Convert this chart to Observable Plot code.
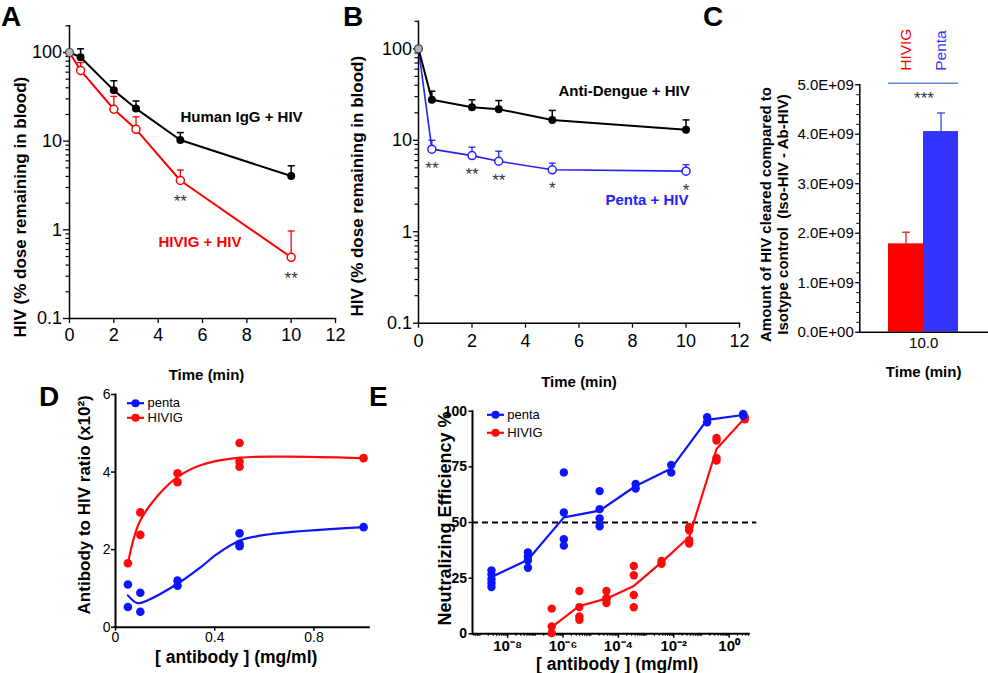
<!DOCTYPE html>
<html><head><meta charset="utf-8">
<script src="https://cdn.jsdelivr.net/npm/d3@7"></script>
<script src="https://cdn.jsdelivr.net/npm/@observablehq/plot@0.6"></script>
<style>
html,body{margin:0;padding:0;background:#fff;}
#fig{position:relative;width:988px;height:673px;overflow:hidden;background:#fff;font-family:"Liberation Sans",Arial,Helvetica,sans-serif;}
.letter{position:absolute;font-weight:bold;font-size:28px;line-height:28px;color:#000;}
</style></head><body><div id="fig"></div>
<script>
// ---------------- data ----------------
const panelLetters = ["A", "B", "C", "D", "E"];
const timeTicks = [0, 2, 4, 6, 8, 10, 12];
const logTicks = [0.1, 1, 10, 100];
const logTickLabels = ["0.1", "1", "10", "100"];
const yLabelAB = "HIV (% dose remaining in blood)";
const xLabelTime = "Time (min)";

// Panel A
const timesA = [0, 0.5, 2, 3, 5, 10];
const iggA = [100, 88.5, 37.4, 23.3, 10.3, 4.04];
const iggErrA = [null, 110, 48, 28.4, 12.5, 5.28];
const hivigA = [100, 62.8, 22.9, 13.6, 3.6, 0.49];
const hivigErrA = [null, 77, 32, 18.8, 4.72, 0.97];
const sigA = ["", "", "", "", "**", "**"];
const namesA = ["Human IgG + HIV", "HIVIG + HIV"];

// Panel B
const timesB = [0, 0.5, 2, 3, 5, 10];
const dengueB = [100, 27.7, 23, 21.9, 16.7, 13];
const dengueErrB = [null, 34.4, 27.7, 27.2, 21.2, 16.7];
const pentaB = [100, 8.0, 6.8, 5.9, 4.76, 4.6];
const pentaErrB = [null, 10, 8.4, 7.6, 5.62, 5.4];
const sigB = ["", "**", "**", "**", "*", "*"];
const namesB = ["Anti-Dengue + HIV", "Penta + HIV"];

// Panel C
const groupsC = ["HIVIG", "Penta"];
const clearedC = [1.786e9, 4.055e9];
const clearedErrC = [2.02e9, 4.43e9];
const colorsC = ["#ff0000", "#3434ff"];
const errColorsC = ["#e83a3a", "#4d5fe6"];
const sigC = "***";
const timeC = "10.0";
const cTicks = [0, 1e9, 2e9, 3e9, 4e9, 5e9];
const cTickLabels = ["0.0E+00", "1.0E+09", "2.0E+09", "3.0E+09", "4.0E+09", "5.0E+09"];
const cYLabel = "Amount of HIV cleared compared to\nIsotype control  (Iso-HIV - Ab-HIV)";

// Panel D
const concDp = [0.05, 0.05, 0.1, 0.1, 0.25, 0.25, 0.5, 0.5, 0.5, 1.0];
const pentaD = [1.10, 0.52, 0.89, 0.40, 1.20, 1.07, 2.42, 2.15, 2.09, 2.58];
const concDh = [0.05, 0.1, 0.1, 0.25, 0.25, 0.5, 0.5, 0.5, 1.0];
const hivigD = [1.65, 2.96, 2.38, 3.97, 3.74, 4.75, 4.27, 4.14, 4.36];
const fitXp = [0.05, 0.088, 0.128, 0.25, 0.344, 0.41, 0.5, 0.614, 1.0];
const fitYp = [0.82, 0.62, 0.69, 1.12, 1.55, 1.89, 2.23, 2.39, 2.58];
const fitXh = [0.05, 0.075, 0.1, 0.17, 0.25, 0.34, 0.5, 0.68, 1.0];
const fitYh = [1.65, 2.32, 2.75, 3.39, 3.87, 4.17, 4.37, 4.40, 4.36];
const dXTicks = [0, 0.4, 0.8];
const dXTickLabels = ["0", "0.4", "0.8"];
const dYTicks = [0, 2, 4, 6];
const dYTickLabels = ["0", "2", "4", "6"];
const legendNames = ["penta", "HIVIG"];
const dYLabel = "Antibody to HIV ratio (x10²)";
const concLabel = "[ antibody ] (mg/ml)";

// Panel E
const concEp = [2.6e-9, 5.4e-8, 1.07e-6, 2.1e-5, 4.2e-4, 8.1e-3, 0.16, 3.2];
const pentaEreps = [[28.5, 26.6, 24.5, 22.8, 21.0], [36.6, 34.8, 33.0, 29.7], [72.5, 54.5, 42.5, 39.6], [64.1, 56, 51.8, 48.3], [67.3, 65.3], [75.8, 72.4], [97.3, 95], [98.8, 97.9]];
const pentaEline = [25.5, 33.3, 52.3, 55.3, 66.4, 74.3, 96.1, 98.3];
const concEh = [3.9e-7, 3.9e-6, 3.7e-5, 3.6e-4, 3.6e-3, 0.036, 0.35, 3.7];
const hivigEreps = [[11.3, 3.3, 0.3], [19.2, 12.0, 7.8, 6.3], [19.2, 16.1, 13.8, 15.5], [30.5, 26.3, 17.4, 11.9], [32.7, 31.5], [48, 46.5, 42, 40.5], [88, 86.8, 79, 77.8], [97.3, 96.4]];
const hivigEline = [3.0, 12.5, 15.8, 21.5, 32.1, 43.5, 83, 97];
const eXTicks = [1e-8, 1e-6, 1e-4, 1e-2, 1];
const eXTickLabels = ["10⁻⁸", "10⁻⁶", "10⁻⁴", "10⁻²", "10⁰"];
const eYTicks = [0, 25, 50, 75, 100];
const eThreshold = 50;
const eYLabel = "Neutralizing Efficiency %";

// ---------------- helpers ----------------
const FONT = '"Liberation Sans", Arial, Helvetica, sans-serif';
const hbar = {draw(ctx, size) { const w = Math.sqrt(size / Math.PI); ctx.moveTo(-w, 0); ctx.lineTo(w, 0); }};
const fig = document.getElementById("fig");
function place(svg, left, top) {
  svg.style.position = "absolute";
  svg.style.left = left + "px";
  svg.style.top = top + "px";
  svg.style.overflow = "visible";
  fig.appendChild(svg);
}
function logMinor(lo, hi, ks, skip = []) {
  const out = [];
  for (let e = Math.floor(Math.log10(lo)) - 1; e <= Math.ceil(Math.log10(hi)); e++)
    for (const k of ks) { const v = k * Math.pow(10, e); if (v >= lo * 0.999 && v <= hi * 1.001 && !skip.some(s => Math.abs(s - v) / s < 1e-6)) out.push(v); }
  return out;
}
const baseStyle = {fontFamily: FONT, overflow: "visible", background: "transparent", color: "#000"};

function decayPanel(o) {
  const s1 = o.times.map((t, i) => ({t, v: o.v1[i], e: o.e1[i]}));
  const s2 = o.times.map((t, i) => ({t, v: o.v2[i], e: o.e2[i], s: o.sig[i]}));
  const hasE = d => d.e != null;
  return Plot.plot({
    width: o.w, height: o.h, marginLeft: o.ml, marginRight: o.mr, marginTop: o.mt, marginBottom: o.mb,
    style: baseStyle,
    x: {domain: [0, 12]},
    y: {type: "log", domain: [0.1, 200]},
    marks: [
      Plot.axisY({ticks: logMinor(0.1, 200, [2, 3, 4, 5, 6, 7, 8, 9]), tickSize: 3.5, tickFormat: () => "", label: null, strokeWidth: 1.2}),
      Plot.axisY({ticks: logTicks, tickSize: o.yts, tickPadding: 1.5, fontSize: 18, tickFormat: d => logTickLabels[logTicks.indexOf(d)], label: null, strokeWidth: 1.3}),
      Plot.axisX({ticks: timeTicks, tickSize: 5, tickPadding: o.xpad, fontSize: 18, label: null, strokeWidth: 1.3}),
      Plot.frame({anchor: "left", strokeWidth: 1.5}),
      Plot.frame({anchor: "bottom", strokeWidth: 1.5}),
      Plot.ruleX(s1.filter(hasE), {x: "t", y1: "v", y2: "e", stroke: o.c1, strokeWidth: 1.5}),
      Plot.dot(s1.filter(hasE), {x: "t", y: "e", symbol: hbar, r: 3.5, fill: "none", stroke: o.c1, strokeWidth: 1.5}),
      Plot.ruleX(s2.filter(hasE), {x: "t", y1: "v", y2: "e", stroke: o.c2, strokeWidth: 1.3}),
      Plot.dot(s2.filter(hasE), {x: "t", y: "e", symbol: hbar, r: 3.5, fill: "none", stroke: o.c2, strokeWidth: 1.3}),
      Plot.line(s2, {x: "t", y: "v", stroke: o.c2, strokeWidth: o.lw2}),
      Plot.line(s1, {x: "t", y: "v", stroke: o.c1, strokeWidth: 2}),
      Plot.dot(s1.slice(1), {x: "t", y: "v", r: 4, fill: o.c1}),
      Plot.dot(s2.slice(1), {x: "t", y: "v", r: 4, fill: "white", stroke: o.c2, strokeWidth: 1.5}),
      Plot.dot(s1.slice(0, 1), {x: "t", y: "v", r: 4, fill: "#b4b4b4", stroke: "#444", strokeWidth: 1.2}),
      Plot.text(s2.filter(d => d.s), {x: "t", y: "v", text: "s", dy: o.sigDy, fontSize: 17, fill: "#333", lineAnchor: "middle", letterSpacing: "1.5px"}),
      Plot.text([o.names[0]], {text: d => d, frameAnchor: "top-left", dx: o.l1[0], dy: o.l1[1], textAnchor: "start", lineAnchor: "middle", fontSize: 15, fontWeight: "bold", fill: o.c1}),
      Plot.text([o.names[1]], {text: d => d, frameAnchor: "top-left", dx: o.l2[0], dy: o.l2[1], textAnchor: "start", lineAnchor: "middle", fontSize: 15, fontWeight: "bold", fill: o.c2}),
      Plot.text([yLabelAB], {text: d => d, frameAnchor: "left", rotate: -90, dx: o.yl[0], dy: o.yl[1], textAnchor: "middle", lineAnchor: "middle", fontSize: 17, fontWeight: "bold"}),
      Plot.text([xLabelTime], {text: d => d, frameAnchor: "bottom", dx: o.xl[0], dy: o.xl[1], textAnchor: "middle", lineAnchor: "middle", fontSize: 15, fontWeight: "bold"})
    ]
  });
}

// ---------------- Panel A ----------------
place(decayPanel({
  times: timesA, v1: iggA, e1: iggErrA, v2: hivigA, e2: hivigErrA, sig: sigA, names: namesA,
  c1: "#000", c2: "#ff0000", lw2: 2,
  w: 340, h: 380, ml: 69, mr: 5, mt: 25.3, mb: 62, yts: 6, xpad: 5, sigDy: 21,
  l1: [111, 91.7], l2: [89, 216.7], yl: [-49, 35], xl: [4, 57]
}), 0, 0);

// ---------------- Panel B ----------------
place(decayPanel({
  times: timesB, v1: dengueB, e1: dengueErrB, v2: pentaB, e2: pentaErrB, sig: sigB, names: namesB,
  c1: "#000", c2: "#2222ff", lw2: 1.6,
  w: 400, h: 390, ml: 78, mr: 1, mt: 20.8, mb: 67.3, yts: 5, xpad: 6, sigDy: 19,
  l1: [140, 70.2], l2: [187, 179.2], yl: [-61.3, 14], xl: [0, 59]
}), 340, 0);

// ---------------- Panel C ----------------
{
  const rows = groupsC.map((g, i) => ({g, v: clearedC[i], e: clearedErrC[i], col: colorsC[i], ecol: errColorsC[i]}));
  const svg = Plot.plot({
    width: 248, height: 390, marginLeft: 119.3, marginRight: 1, marginTop: 84.3, marginBottom: 58.3,
    style: baseStyle,
    x: {domain: groupsC, paddingInner: 0, paddingOuter: 0.775, axis: null},
    y: {domain: [0, 5e9], axis: null},
    color: {type: "identity"},
    marks: [
      Plot.axisY({ticks: d3.range(0, 5e9 + 1, 2e8), tickSize: 3, tickFormat: () => "", label: null}),
      Plot.axisY({ticks: cTicks, tickSize: 4.5, tickPadding: 1.5, fontSize: 15, tickFormat: d => cTickLabels[cTicks.indexOf(d)], label: null}),
      Plot.barY(rows, {x: "g", y: "v", fill: "col"}),
      Plot.ruleX(rows, {x: "g", y1: "v", y2: "e", stroke: "ecol", strokeWidth: 1.5}),
      Plot.dot(rows, {x: "g", y: "e", symbol: hbar, r: 4, fill: "none", stroke: "ecol", strokeWidth: 1.5}),
      Plot.frame({anchor: "left", strokeWidth: 1.5}),
      Plot.frame({anchor: "bottom", strokeWidth: 1.5}),
      Plot.tickY(rows, {x: "g", y: () => 5e9, dy: -1.5, stroke: "#5b8bd6", strokeWidth: 1.5}),
      Plot.text([sigC], {text: d => d, x: () => groupsC[0], frameAnchor: "top", dx: 18, dy: 14, fontSize: 17, fill: "#333", lineAnchor: "middle", letterSpacing: "1.5px"}),
      Plot.text(rows, {x: "g", text: "g", frameAnchor: "top", rotate: -90, textAnchor: "start", lineAnchor: "middle", dy: -14, fontSize: 15.5, fill: "col"}),
      Plot.text([timeC], {text: d => d, frameAnchor: "bottom", dy: 10.5, textAnchor: "middle", lineAnchor: "middle", fontSize: 15}),
      Plot.text([xLabelTime], {text: d => d, frameAnchor: "bottom", dy: 39.5, textAnchor: "middle", lineAnchor: "middle", fontSize: 15, fontWeight: "bold"}),
      Plot.text([cYLabel], {text: d => d, frameAnchor: "left", rotate: -90, dx: -86, dy: 6, textAnchor: "middle", lineAnchor: "middle", lineHeight: 1.12, fontSize: 15, fontWeight: "bold"})
    ]
  });
  place(svg, 740, 0);
}

// ---------------- Panel D ----------------
{
  const BLUE = "#0a14ff", RED = "#ff0a0a";
  const dp = concDp.map((x, i) => ({x, y: pentaD[i]}));
  const dh = concDh.map((x, i) => ({x, y: hivigD[i]}));
  const fp = fitXp.map((x, i) => ({x, y: fitYp[i]}));
  const fh = fitXh.map((x, i) => ({x, y: fitYh[i]}));
  const legendColors = [BLUE, RED];
  const legendMarks = legendNames.flatMap((n, i) => [
    Plot.dot([n], {frameAnchor: "top-left", dx: 20, dy: 8.7 + i * 14.6, symbol: hbar, r: 8.5, fill: "none", stroke: legendColors[i], strokeWidth: 2.2}),
    Plot.dot([n], {frameAnchor: "top-left", dx: 20, dy: 8.7 + i * 14.6, r: 4, fill: legendColors[i]}),
    Plot.text([n], {text: d => d, frameAnchor: "top-left", dx: 32, dy: 8.7 + i * 14.6, textAnchor: "start", lineAnchor: "middle", fontSize: 13})
  ]);
  const svg = Plot.plot({
    width: 400, height: 293, marginLeft: 115, marginRight: 31.7, marginTop: 14, marginBottom: 46.3,
    style: baseStyle,
    x: {domain: [0, 1.021]},
    y: {domain: [0, 6]},
    marks: [
      Plot.axisX({ticks: dXTicks, tickSize: 4, tickPadding: 1, fontSize: 14, tickFormat: d => dXTickLabels[dXTicks.indexOf(d)], label: null, strokeWidth: 1.5}),
      Plot.axisY({ticks: dYTicks, tickSize: 4, tickPadding: 1, fontSize: 14, tickFormat: d => dYTickLabels[dYTicks.indexOf(d)], label: null, strokeWidth: 1.5}),
      Plot.frame({anchor: "left", strokeWidth: 2}),
      Plot.frame({anchor: "bottom", strokeWidth: 2}),
      Plot.line(fh, {x: "x", y: "y", curve: "catmull-rom", stroke: RED, strokeWidth: 2.2}),
      Plot.line(fp, {x: "x", y: "y", curve: "catmull-rom", stroke: BLUE, strokeWidth: 2.2}),
      Plot.dot(dh, {x: "x", y: "y", r: 4.3, fill: RED}),
      Plot.dot(dp, {x: "x", y: "y", r: 4.3, fill: BLUE}),
      ...legendMarks,
      Plot.text([dYLabel], {text: d => d, frameAnchor: "left", rotate: -90, dx: -31, dy: -6, textAnchor: "middle", lineAnchor: "middle", fontSize: 17, fontWeight: "bold"}),
      Plot.text([concLabel], {text: d => d, frameAnchor: "bottom", dx: -6, dy: 30.3, textAnchor: "middle", lineAnchor: "middle", fontSize: 17.5, fontWeight: "bold"})
    ]
  });
  place(svg, 0, 380);
}

// ---------------- Panel E ----------------
{
  const BLUE = "#0a14ff", RED = "#ff0a0a";
  const ep = concEp.flatMap((x, i) => pentaEreps[i].map(y => ({x, y})));
  const eh = concEh.flatMap((x, i) => hivigEreps[i].map(y => ({x, y})));
  const lp = concEp.map((x, i) => ({x, y: pentaEline[i]}));
  const lh = concEh.map((x, i) => ({x, y: hivigEline[i]}));
  const xDomain = [Math.pow(10, -9.27), Math.pow(10, 0.71)];
  const legendColors = [BLUE, RED];
  const legendMarks = legendNames.flatMap((n, i) => [
    Plot.dot([n], {frameAnchor: "top-left", dx: 23, dy: 3.6 + i * 18, symbol: hbar, r: 8.5, fill: "none", stroke: legendColors[i], strokeWidth: 2.2}),
    Plot.dot([n], {frameAnchor: "top-left", dx: 23, dy: 3.6 + i * 18, r: 4, fill: legendColors[i]}),
    Plot.text([n], {text: d => d, frameAnchor: "top-left", dx: 34.7, dy: 3.6 + i * 18, textAnchor: "start", lineAnchor: "middle", fontSize: 13})
  ]);
  const svg = Plot.plot({
    width: 370, height: 293, marginLeft: 72, marginRight: 21.7, marginTop: 30.7, marginBottom: 39.7,
    style: baseStyle,
    x: {type: "log", domain: xDomain},
    y: {domain: [0, 100]},
    marks: [
      Plot.axisX({ticks: logMinor(xDomain[0], xDomain[1], [1, 2, 3, 4, 5, 6, 7, 8, 9], eXTicks), tickSize: 2.5, tickFormat: () => "", label: null, strokeWidth: 1.2}),
      Plot.axisX({ticks: eXTicks, tickSize: 4.5, tickPadding: 2, fontSize: 15, fontWeight: "bold", tickFormat: d => eXTickLabels[eXTicks.indexOf(d)], label: null, strokeWidth: 1.5}),
      Plot.axisY({ticks: eYTicks, tickSize: 3.5, tickPadding: 2, fontSize: 14, fontWeight: "bold", label: null, strokeWidth: 1.5}),
      Plot.frame({anchor: "left", strokeWidth: 2}),
      Plot.frame({anchor: "bottom", strokeWidth: 2}),
      Plot.ruleY([eThreshold], {stroke: "#000", strokeWidth: 2, strokeDasharray: "6,4", insetRight: -8}),
      Plot.line(lh, {x: "x", y: "y", stroke: RED, strokeWidth: 2.2}),
      Plot.line(lp, {x: "x", y: "y", stroke: BLUE, strokeWidth: 2.2}),
      Plot.dot(eh, {x: "x", y: "y", r: 4.2, fill: RED}),
      Plot.dot(ep, {x: "x", y: "y", r: 4.2, fill: BLUE}),
      ...legendMarks,
      Plot.text([eYLabel], {text: d => d, frameAnchor: "left", rotate: -90, dx: -27, dy: -4, textAnchor: "middle", lineAnchor: "middle", fontSize: 18, fontWeight: "bold"}),
      Plot.text([concLabel], {text: d => d, frameAnchor: "bottom", dx: 6.5, dy: 31, textAnchor: "middle", lineAnchor: "middle", fontSize: 17.5, fontWeight: "bold"})
    ]
  });
  place(svg, 400, 380);
}

// ---------------- panel letters ----------------
const letterPos = [[1, 3], [343, 3], [703, 3], [39, 383], [369, 383]];
panelLetters.forEach((L, i) => {
  const d = document.createElement("div");
  d.className = "letter";
  d.textContent = L;
  d.style.left = letterPos[i][0] + "px";
  d.style.top = letterPos[i][1] + "px";
  fig.appendChild(d);
});
</script></body></html>
